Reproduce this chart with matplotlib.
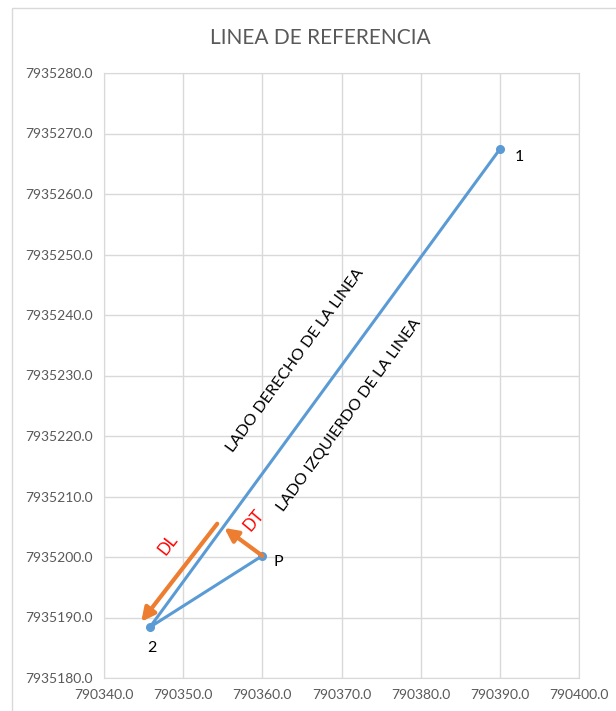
import matplotlib.pyplot as plt
from matplotlib.patches import Rectangle
from matplotlib.ticker import FormatStrFormatter

# Reference line points (east, north)
names = ['1', '2', 'P']
este = [790390.0, 790345.8, 790360.0]
norte = [7935267.4, 7935188.4, 7935200.2]

# Distance vectors: DL along the line, DT perpendicular from P
dl_ini = (790354.3, 7935205.5)
dl_fin = (790344.7, 7935189.3)
dt_ini = (790360.0, 7935200.2)
dt_fin = (790355.2, 7935204.8)

azul = '#5B9BD5'
naranja = '#ED7D31'
gris = '#595959'
FONT = 'Lato'

fig = plt.figure(figsize=(6.16, 7.11), dpi=100)
fig.patches.append(Rectangle((12 / 616, -0.01), 1.0, 1 - 8 / 711 + 0.01,
                             transform=fig.transFigure, fill=False,
                             edgecolor='#D9D9D9', linewidth=1))
ax = fig.add_axes([104 / 616, 33 / 711, 475 / 616, 605 / 711])

ax.plot(este, norte, color=azul, linewidth=2.2, marker='o', markersize=5.5,
        zorder=3)

ax.annotate('', xy=dl_fin, xytext=dl_ini,
            arrowprops=dict(arrowstyle='-|>,head_length=0.8,head_width=0.4',
                            color=naranja, lw=3, shrinkA=0, shrinkB=0), zorder=4)
ax.annotate('', xy=dt_fin, xytext=dt_ini,
            arrowprops=dict(arrowstyle='-|>,head_length=0.8,head_width=0.4',
                            color=naranja, lw=3, shrinkA=0, shrinkB=0), zorder=4)

# Point labels
ax.text(este[0] + 2.5, norte[0] - 1.3, names[0], fontsize=11.5, family=FONT,
        ha='center', va='center')
ax.text(este[1] + 0.2, norte[1] - 3.4, names[1], fontsize=11.5, family=FONT,
        ha='center', va='center')
ax.text(este[2] + 2.0, norte[2] - 1.0, names[2], fontsize=11.5, family=FONT,
        ha='center', va='center')

ax.text(790348.1, 7935202.0, 'DL', color='red', fontsize=12, family=FONT,
        rotation=52, ha='center', va='center')
ax.text(790358.9, 7935206.0, 'DT', color='red', fontsize=12, family=FONT,
        rotation=50, ha='center', va='center')

ax.text(790364.2, 7935232.5, 'LADO DERECHO DE LA LINEA', fontsize=11.5,
        family=FONT, rotation=54, ha='center', va='center',
        rotation_mode='anchor')
ax.text(790371.0, 7935223.5, 'LADO IZQUIERDO DE LA LINEA', fontsize=11.5,
        family=FONT, rotation=54, ha='center', va='center',
        rotation_mode='anchor')

ax.set_xlim(790340, 790400)
ax.set_ylim(7935180, 7935280)
ax.set_xticks([790340 + 10 * i for i in range(7)])
ax.set_yticks([7935180 + 10 * i for i in range(11)])
ax.xaxis.set_major_formatter(FormatStrFormatter('%.1f'))
ax.yaxis.set_major_formatter(FormatStrFormatter('%.1f'))
ax.tick_params(length=0, labelsize=10, labelcolor=gris, pad=8)
for lab in ax.get_xticklabels() + ax.get_yticklabels():
    lab.set_family(FONT)
ax.grid(True, color='#D9D9D9', linewidth=1)
ax.set_axisbelow(True)
for s in ax.spines.values():
    s.set_color('#D9D9D9')

fig.text(0.52, 1 - 38 / 711, 'LINEA DE REFERENCIA', fontsize=15,
         family=FONT, color=gris, ha='center', va='center')

plt.savefig('out.png', dpi=100)
